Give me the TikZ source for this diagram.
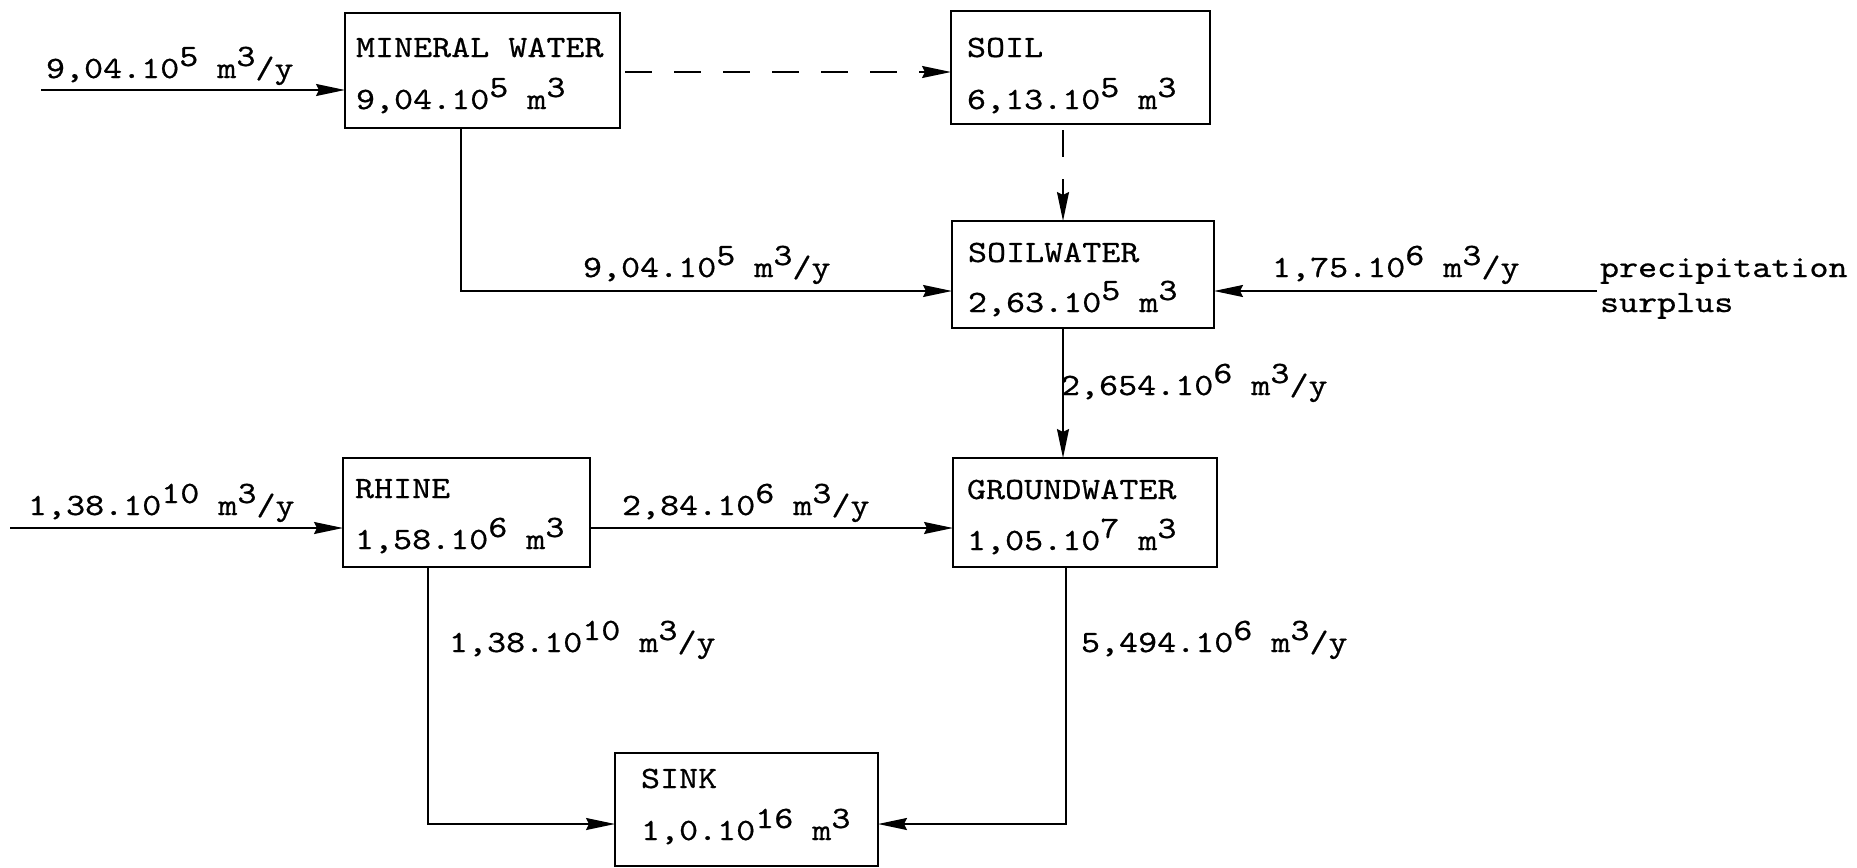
\documentclass[tikz,border=0pt]{standalone}
\usepackage{fontspec}
% serif typewriter face, widened to the pitch of the labels
\newfontfamily\tw{lmmono10-regular.otf}[FakeStretch=1.17,FakeBold=0.6]
\usetikzlibrary{arrows.meta}
% exponent set at full size, lifted half a line as on a typewriter
\newcommand\hi[1]{\raisebox{12pt}{#1}}
% two left-aligned lines; the baseline is that of the first line
\newcommand\twolines[3]{\vtop{\baselineskip=#1pt\hbox{#2}\hbox{#3}}}
\begin{document}
\begin{tikzpicture}[x=1pt,y=-1pt,
  every node/.style={font=\tw\fontsize{31}{51}\selectfont},
  store/.style={draw, line width=1.8pt, rectangle, anchor=north west,
    inner sep=0pt, outer sep=0pt},
  txt/.style={anchor=base west, inner sep=0pt, outer sep=0pt},
  flow/.style={line width=1.8pt, -{Stealth[length=29pt,width=12pt,inset=3pt]}},
  dflow/.style={flow, dash pattern=on 27pt off 22pt}]
\useasboundingbox (0,0) rectangle (1857,867);

% compartments
\node[store, minimum width=275pt, minimum height=115pt] (mw)   at (345,13)  {};
\node[store, minimum width=259pt, minimum height=113pt] (soil) at (951,11)  {};
\node[store, minimum width=262pt, minimum height=107pt] (sw)   at (952,221) {};
\node[store, minimum width=247pt, minimum height=109pt] (rh)   at (343,458) {};
\node[store, minimum width=264pt, minimum height=109pt] (gw)   at (953,458) {};
\node[store, minimum width=263pt, minimum height=113pt] (sink) at (615,753) {};

% compartment names and contents
\node[txt] (mwt)   at (356,57)  {\twolines{52}{MINERAL WATER}{9,04.10\hi{5} m\hi{3}}};
\node[txt] (soilt) at (967,57)  {\twolines{52}{SOIL}{6,13.10\hi{5} m\hi{3}}};
\node[txt] (swt)   at (968,262) {\twolines{50}{SOILWATER}{2,63.10\hi{5} m\hi{3}}};
\node[txt] (rht)   at (355,498) {\twolines{51}{RHINE}{1,58.10\hi{6} m\hi{3}}};
\node[txt] (gwt)   at (967,499) {\twolines{51}{GROUNDWATER}{1,05.10\hi{7} m\hi{3}}};
\node[txt] (sinkt) at (641,788) {\twolines{52}{SINK}{1,0.10\hi{16} m\hi{3}}};

% free ends and bends of the flows
\coordinate (inM)  at (41,90);
\coordinate (dA)   at (625,72);
\coordinate (dB)   at (1063,130);
\coordinate (cA)   at (461,291);
\coordinate (inP)  at (1597,291);
\coordinate (cB)   at (1063,0);
\coordinate (inR)  at (10,528);
\coordinate (yR)   at (0,528);
\coordinate (cC)   at (428,824);
\coordinate (cD)   at (1066,824);

% flows
\draw[flow]  (inM) -- (inM -| mw.west);
\draw[dflow] (dA) -- (dA -| soil.west);
\draw[dflow] (dB) -- (dB |- sw.north);
\draw[flow]  (cA |- mw.south) -- (cA) -- (cA -| sw.west);
\draw[flow]  (inP) -- (inP -| sw.east);
\draw[flow]  (cB |- sw.south) -- (cB |- gw.north);
\draw[flow]  (inR) -- (inR -| rh.west);
\draw[flow]  (rh.east |- yR) -- (gw.west |- yR);
\draw[flow]  (cC |- rh.south) -- (cC) -- (cC -| sink.west);
\draw[flow]  (cD |- gw.south) -- (cD) -- (cD -| sink.east);

% flow rates
\node[txt] (lA)  at (46,78)    {9,04.10\hi{5} m\hi{3}/y};
\node[txt] (lB)  at (583,277)  {9,04.10\hi{5} m\hi{3}/y};
\node[txt] (lP)  at (1272,277) {1,75.10\hi{6} m\hi{3}/y};
\node[txt] (src) at (1600,277) {\twolines{35}{precipitation}{surplus}};
\node[txt] (lC)  at (1061,395) {2,654.10\hi{6} m\hi{3}/y};
\node[txt] (lR)  at (28,515)   {1,38.10\hi{10} m\hi{3}/y};
\node[txt] (lRG) at (622,515)  {2,84.10\hi{6} m\hi{3}/y};
\node[txt] (lRS) at (449,652)  {1,38.10\hi{10} m\hi{3}/y};
\node[txt] (lGS) at (1081,652) {5,494.10\hi{6} m\hi{3}/y};
\end{tikzpicture}
\end{document}
